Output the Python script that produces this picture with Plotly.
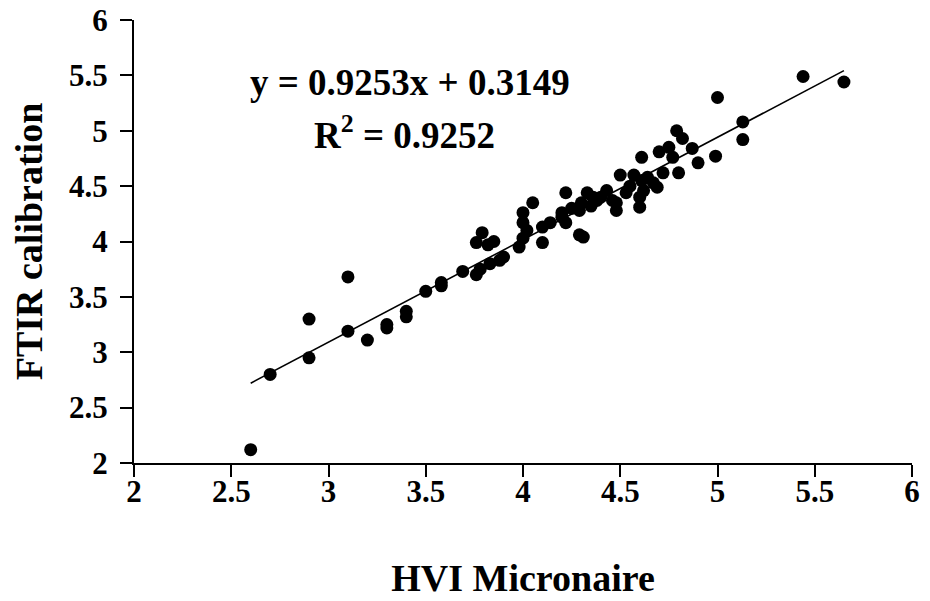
import plotly.graph_objects as go

# HVI Micronaire (x) vs FTIR calibration (y)
hvi = [2.6, 2.7, 2.9, 2.9, 3.1, 3.1, 3.2, 3.3, 3.3, 3.4, 3.4, 3.5, 3.58, 3.58,
       3.69, 3.76, 3.78, 3.76, 3.79, 3.85, 3.83, 3.88, 3.82, 3.9, 3.98, 4.0,
       4.0, 4.0, 4.05, 4.02, 4.1, 4.1, 4.14, 4.22, 4.22, 4.2, 4.2, 4.31, 4.29,
       4.29, 4.3, 4.33, 4.38, 4.35, 4.4, 4.43, 4.48, 4.48, 4.53, 4.5, 4.55,
       4.6, 4.6, 4.46, 4.69, 4.61, 4.62, 4.61, 4.67, 4.72, 4.7, 4.77, 4.75,
       4.79, 4.82, 4.8, 4.87, 4.9, 4.99, 5.0, 5.13, 5.13, 5.44, 5.65, 4.57,
       4.64, 4.25, 4.36]
ftir = [2.12, 2.8, 3.3, 2.95, 3.68, 3.19, 3.11, 3.22, 3.25, 3.32, 3.37, 3.55,
        3.6, 3.63, 3.73, 3.7, 3.75, 3.99, 4.08, 4.0, 3.8, 3.83, 3.97, 3.86,
        3.95, 4.26, 4.03, 4.17, 4.35, 4.1, 3.99, 4.13, 4.17, 4.44, 4.17, 4.26,
        4.22, 4.04, 4.06, 4.28, 4.35, 4.44, 4.37, 4.32, 4.4, 4.46, 4.28, 4.35,
        4.44, 4.6, 4.5, 4.31, 4.4, 4.37, 4.49, 4.76, 4.46, 4.55, 4.53, 4.62,
        4.81, 4.76, 4.85, 5.0, 4.93, 4.62, 4.84, 4.71, 4.77, 5.3, 5.08, 4.92,
        5.49, 5.44, 4.6, 4.58, 4.3, 4.4]

slope = 0.9253
intercept = 0.3149
r2 = 0.9252
tick_vals = [2, 2.5, 3, 3.5, 4, 4.5, 5, 5.5, 6]
tick_text = ["2", "2.5", "3", "3.5", "4", "4.5", "5", "5.5", "6"]

x_line = [min(hvi), max(hvi)]
y_line = [slope * v + intercept for v in x_line]

font_family = "Liberation Serif, Times New Roman, serif"

fig = go.Figure()
fig.add_trace(go.Scatter(x=hvi, y=ftir, mode="markers",
                         marker=dict(color="black", size=13, line=dict(width=0)),
                         showlegend=False))
fig.add_trace(go.Scatter(x=x_line, y=y_line, mode="lines",
                         line=dict(color="black", width=1.6),
                         showlegend=False))

axis_common = dict(
    tickvals=tick_vals, ticktext=tick_text, range=[2, 6], automargin=False,
    showgrid=False, zeroline=False, showline=True, linecolor="black",
    linewidth=2, ticks="outside", ticklen=12, tickwidth=2, tickcolor="black",
    ticklabeloverflow="allow",
    tickfont=dict(family=font_family, size=31, color="black", weight="bold"),
)

fig.update_layout(
    width=922, height=593,
    margin=dict(l=126, r=18, t=12, b=138),
    plot_bgcolor="white", paper_bgcolor="white",
    font=dict(family=font_family, color="black"),
    xaxis=dict(**axis_common, ticklabelstandoff=-12,
               title=dict(text="HVI Micronaire", standoff=56,
                          font=dict(family=font_family, size=38, color="black",
                                    weight="bold"))),
    yaxis=dict(**axis_common, ticklabelstandoff=6,
               title=dict(text="FTIR calibration", standoff=18,
                          font=dict(family=font_family, size=38, color="black",
                                    weight="bold"))),
)

fig.add_annotation(
    xref="x", yref="y", x=3.418, y=5.44, showarrow=False,
    text=f"y = {slope}x + {intercept}",
    font=dict(family=font_family, size=37, color="black", weight="bold"),
)
fig.add_annotation(
    xref="x", yref="y", x=3.39, y=4.98, showarrow=False,
    text=f"R<sup>2</sup> = {r2}",
    font=dict(family=font_family, size=37, color="black", weight="bold"),
)

fig.write_html("out.html")
